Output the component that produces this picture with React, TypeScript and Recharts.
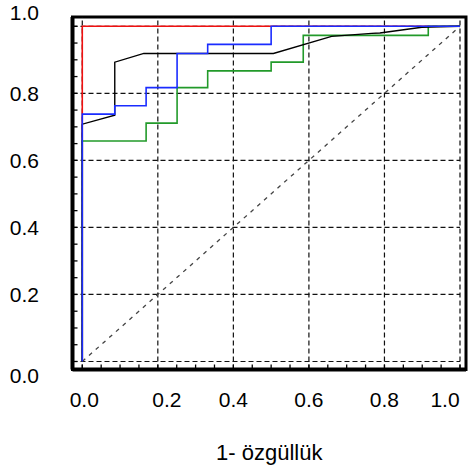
import React from 'react';
import { LineChart, Line, XAxis, YAxis, ReferenceLine, ReferenceArea } from 'recharts';

// ROC curves: x = 1 - specificity, y = sensitivity
const redCurve = [
  { x: 0, y: 0 },
  { x: 0, y: 1 },
  { x: 1, y: 1 },
];

const blueCurve = [
  { x: 0, y: 0 },
  { x: 0, y: 0.738 },
  { x: 0.086, y: 0.738 },
  { x: 0.086, y: 0.763 },
  { x: 0.169, y: 0.763 },
  { x: 0.169, y: 0.817 },
  { x: 0.251, y: 0.817 },
  { x: 0.251, y: 0.919 },
  { x: 0.332, y: 0.919 },
  { x: 0.332, y: 0.946 },
  { x: 0.5, y: 0.946 },
  { x: 0.5, y: 1 },
  { x: 1, y: 1 },
];

const greenCurve = [
  { x: 0, y: 0 },
  { x: 0, y: 0.658 },
  { x: 0.169, y: 0.658 },
  { x: 0.169, y: 0.711 },
  { x: 0.251, y: 0.711 },
  { x: 0.251, y: 0.817 },
  { x: 0.332, y: 0.817 },
  { x: 0.332, y: 0.867 },
  { x: 0.5, y: 0.867 },
  { x: 0.5, y: 0.893 },
  { x: 0.585, y: 0.893 },
  { x: 0.585, y: 0.973 },
  { x: 0.916, y: 0.973 },
  { x: 0.916, y: 1 },
  { x: 1, y: 1 },
];

const blackCurve = [
  { x: 0, y: 0 },
  { x: 0, y: 0.708 },
  { x: 0.086, y: 0.735 },
  { x: 0.086, y: 0.893 },
  { x: 0.163, y: 0.919 },
  { x: 0.506, y: 0.919 },
  { x: 0.66, y: 0.97 },
  { x: 0.766, y: 0.979 },
  { x: 0.788, y: 0.98 },
  { x: 0.899, y: 0.997 },
  { x: 1, y: 1 },
];

const diagonal = [
  { x: 0, y: 0 },
  { x: 1, y: 1 },
];

const majorTicks = [0, 0.2, 0.4, 0.6, 0.8, 1.0];
const tickLabels = ['0.0', '0.2', '0.4', '0.6', '0.8', '1.0'];
const minorTicks = [
  0, 0.05, 0.1, 0.15, 0.2, 0.25, 0.3, 0.35, 0.4, 0.45, 0.5,
  0.55, 0.6, 0.65, 0.7, 0.75, 0.8, 0.85, 0.9, 0.95, 1.0,
];
const xTitle = '1- özgüllük';

const X_DOMAIN: [number, number] = [-0.0259, 1.0159];
const Y_DOMAIN: [number, number] = [-0.0239, 1.0277];

const FONT = '"Liberation Sans", Arial, Helvetica, sans-serif';
const xLabelShift: Record<string, number> = { '0.0': 2, '0.2': 9, '1.0': -15 };
const yLabelShift: Record<string, number> = { '1.0': -14, '0.0': 14.5 };

const labelFor = (v: number) => {
  const idx = majorTicks.findIndex((m) => Math.abs(m - v) < 1e-6);
  return idx >= 0 ? tickLabels[idx] : null;
};

const XTick = (props: any) => {
  const { x, y, payload } = props;
  const lab = labelFor(payload.value);
  return (
    <g>
      <line x1={x} x2={x} y1={y} y2={y - 5} stroke="#000" strokeWidth={1.3} />
      {lab && (
        <text
          x={x + (xLabelShift[lab] || 0)}
          y={y + 37}
          textAnchor="middle"
          fontSize={21}
          fontFamily={FONT}
          fill="#000"
        >
          {lab}
        </text>
      )}
    </g>
  );
};

const YTick = (props: any) => {
  const { x, y, payload } = props;
  const lab = labelFor(payload.value);
  return (
    <g>
      <line x1={x} x2={x + 5} y1={y} y2={y} stroke="#000" strokeWidth={1.3} />
      {lab && (
        <text
          x={x - 33.5}
          y={y + 7.5 + (yLabelShift[lab] || 0)}
          textAnchor="end"
          fontSize={21}
          fontFamily={FONT}
          fill="#000"
        >
          {lab}
        </text>
      )}
    </g>
  );
};

const TitleLabel = (props: any) => {
  const { viewBox } = props;
  const cx = viewBox.x + viewBox.width / 2;
  return (
    <text x={cx} y={460} textAnchor="middle" fontSize={22} fontFamily={FONT} fill="#000">
      {xTitle}
    </text>
  );
};

export default function App() {
  return (
    <div style={{ position: 'absolute', left: 0, top: 0, background: '#fff' }}>
      <LineChart
        width={471}
        height={468}
        margin={{ top: 17, right: 5, bottom: 0, left: 0 }}
      >
        <XAxis
          dataKey="x"
          type="number"
          domain={X_DOMAIN}
          ticks={minorTicks}
          interval={0}
          tickSize={0}
          tickMargin={0}
          tick={<XTick />}
          tickLine={false}
          axisLine={{ stroke: '#000', strokeWidth: 4 }}
          height={98.5}
          allowDataOverflow
          label={<TitleLabel />}
        />
        <YAxis
          type="number"
          domain={Y_DOMAIN}
          ticks={minorTicks}
          interval={0}
          tickSize={0}
          tickMargin={0}
          tick={<YTick />}
          tickLine={false}
          axisLine={{ stroke: '#000', strokeWidth: 4 }}
          width={72.5}
          allowDataOverflow
        />
        <ReferenceArea
          x1={X_DOMAIN[0]}
          x2={X_DOMAIN[1]}
          y1={Y_DOMAIN[0]}
          y2={Y_DOMAIN[1]}
          fill="none"
          fillOpacity={0}
          stroke="#000"
          strokeWidth={3}
          ifOverflow="visible"
        />
        {majorTicks.map((v) => (
          <ReferenceLine
            key={'vx' + v}
            x={v}
            stroke="#111"
            strokeWidth={1.2}
            strokeDasharray="5 3"
          />
        ))}
        {majorTicks.map((v) => (
          <ReferenceLine
            key={'hy' + v}
            segment={[
              { x: X_DOMAIN[0], y: v },
              { x: 1, y: v },
            ]}
            stroke="#111"
            strokeWidth={1.2}
            strokeDasharray="5 3"
          />
        ))}
        <Line
          data={diagonal}
          dataKey="y"
          type="linear"
          stroke="#444"
          strokeWidth={1.3}
          strokeDasharray="4 5"
          dot={false}
          activeDot={false}
          isAnimationActive={false}
        />
        <Line
          data={redCurve}
          dataKey="y"
          type="linear"
          stroke="#f01010"
          strokeWidth={1.6}
          dot={false}
          activeDot={false}
          isAnimationActive={false}
        />
        <Line
          data={greenCurve}
          dataKey="y"
          type="linear"
          stroke="#229a2a"
          strokeWidth={1.6}
          dot={false}
          activeDot={false}
          isAnimationActive={false}
        />
        <Line
          data={blackCurve}
          dataKey="y"
          type="linear"
          stroke="#000"
          strokeWidth={1.4}
          dot={false}
          activeDot={false}
          isAnimationActive={false}
        />
        <Line
          data={blueCurve}
          dataKey="y"
          type="linear"
          stroke="#1a2cff"
          strokeWidth={1.6}
          dot={false}
          activeDot={false}
          isAnimationActive={false}
        />
      </LineChart>
    </div>
  );
}
